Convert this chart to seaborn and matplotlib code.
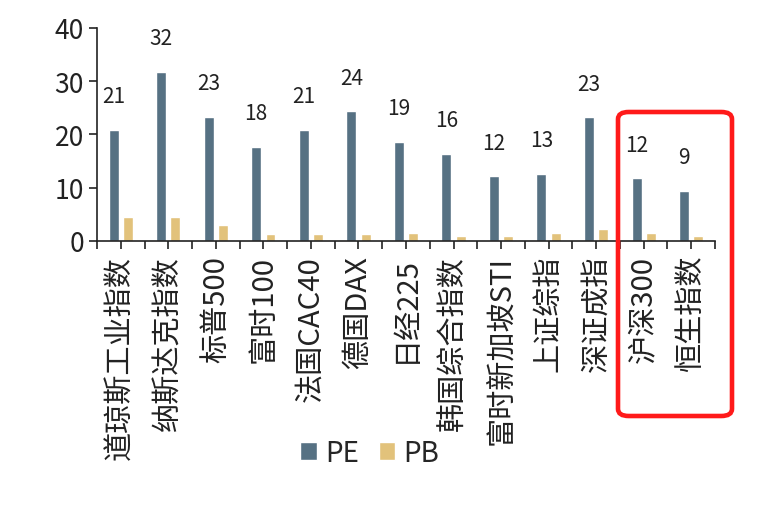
import numpy as np
import pandas as pd
import matplotlib
matplotlib.use("Agg")
import matplotlib.pyplot as plt
from matplotlib.patches import FancyBboxPatch
import seaborn as sns

# Index names and valuations
indices = ["道琼斯工业指数", "纳斯达克指数", "标普500", "富时100", "法国CAC40", "德国DAX",
           "日经225", "韩国综合指数", "富时新加坡STI", "上证综指", "深证成指", "沪深300", "恒生指数"]
pe = [20.9, 31.8, 23.3, 17.7, 20.9, 24.4, 18.6, 16.4, 12.1, 12.6, 23.2, 11.8, 9.4]
pb = [4.4, 4.4, 3.0, 1.3, 1.3, 1.3, 1.4, 1.0, 1.0, 1.4, 2.3, 1.4, 1.0]
series = ["PE", "PB"]
colors = ["#567183", "#e2c27b"]

df = pd.DataFrame({
    "index": indices * 2,
    "value": pe + pb,
    "metric": ["PE"] * len(indices) + ["PB"] * len(indices),
})

sns.set_style("ticks")
plt.rcParams["font.family"] = ["Noto Sans CJK SC", "DejaVu Sans"]

fig = plt.figure(figsize=(7.66, 5.06), dpi=100)
ax = fig.add_axes([0.1266, 0.522, 0.8068, 0.421])

sns.barplot(data=df, x="index", y="value", hue="metric", hue_order=series,
            palette=colors, width=0.6, gap=0.3, saturation=1, ax=ax)

# value labels above the PE bars
for bar in ax.containers[0]:
    h = bar.get_height()
    ax.annotate(f"{h:.0f}", (bar.get_x() + bar.get_width() / 2, h),
                xytext=(0, 24), textcoords="offset points",
                ha="center", va="center", fontsize=15, color="#222222")

ax.set_xlim(-0.5, len(indices) - 0.5)
ax.set_ylim(0, 40)
ax.set_yticks([0, 10, 20, 30, 40])
ax.set_xticks(np.arange(-0.5, len(indices), 1), minor=True)
ax.set_xlabel("")
ax.set_ylabel("")
ax.tick_params(axis="y", labelsize=19, length=6, width=1.2, colors="#222222")
ax.tick_params(axis="x", which="both", length=6, width=1.2, colors="#222222")
ax.tick_params(axis="x", labelsize=21, rotation=90, pad=4)
sns.despine(ax=ax)
for s in ["left", "bottom"]:
    ax.spines[s].set_linewidth(1.2)
    ax.spines[s].set_color("#222222")

handles, labels = ax.get_legend_handles_labels()
ax.get_legend().remove()
fig.legend(handles, labels, loc="center", bbox_to_anchor=(0.483, 0.103), ncol=2,
           frameon=False, fontsize=20, handlelength=0.6, handleheight=0.6,
           handletextpad=0.3, columnspacing=0.7)

# red highlight box around the two A/H-share indices
fig.patches.append(FancyBboxPatch((618 / 766, 1 - 417 / 506), 114 / 766, 304 / 506,
                                  boxstyle="round,pad=0,rounding_size=0.014",
                                  transform=fig.transFigure, fill=False,
                                  edgecolor="#ff1a1a", linewidth=3.3))

fig.savefig("out.png", dpi=100)
